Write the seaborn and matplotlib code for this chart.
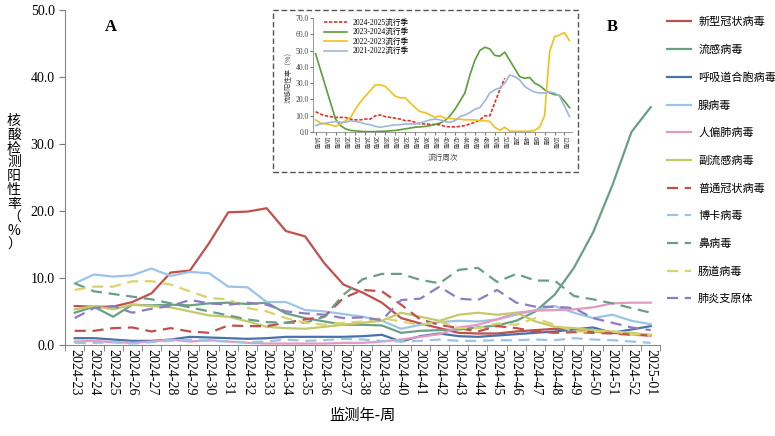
import matplotlib
matplotlib.use("Agg")
import matplotlib.pyplot as plt
import seaborn as sns
import pandas as pd
import numpy as np
from matplotlib.patches import Rectangle

weeks = [f"2024-{w}" for w in range(23, 53)] + ["2025-01"]

covid   = [5.8,5.7,5.7,6.4,7.7,10.8,11.1,15.2,19.8,19.9,20.4,17.0,16.2,12.2,9.0,7.8,6.3,4.0,3.2,2.5,1.8,1.7,1.7,2.0,2.2,2.4,2.4,2.0,1.8,1.6,1.4]
flu     = [4.8,5.7,4.2,6.0,5.9,6.0,5.9,6.2,6.3,6.1,6.3,4.7,4.0,3.5,3.0,3.0,2.9,1.8,2.1,2.2,2.3,2.6,2.9,3.6,5.0,7.5,11.5,16.8,23.8,31.8,35.5]
rsv     = [1.0,1.0,0.8,0.6,0.6,0.8,1.2,1.1,1.0,0.9,1.0,1.2,1.2,1.2,1.2,1.3,1.5,0.5,1.3,1.7,1.3,1.2,1.4,1.6,1.8,2.0,2.3,2.6,1.8,2.3,2.8]
adeno   = [9.2,10.5,10.2,10.4,11.4,10.3,10.9,10.7,8.7,8.6,6.4,6.4,5.2,5.0,4.6,4.2,3.6,2.4,3.0,3.4,3.6,3.5,3.8,4.5,5.2,5.8,4.8,4.0,4.5,3.6,3.1]
hmpv    = [0.5,0.6,0.4,0.3,0.5,0.8,0.5,0.7,0.5,0.3,0.2,0.2,0.2,0.2,0.3,0.3,0.5,0.8,1.2,1.6,2.6,3.0,3.8,4.8,5.1,5.2,5.3,5.6,6.2,6.3,6.3]
paraflu = [5.3,5.8,5.3,6.0,5.8,5.6,5.0,4.4,4.2,3.5,2.7,2.5,2.4,2.7,3.0,3.3,3.6,4.8,4.2,3.6,4.5,4.8,4.5,4.8,3.5,2.7,2.5,2.2,2.0,1.8,1.5]
hcov    = [2.1,2.1,2.5,2.6,2.0,2.5,2.0,1.8,2.9,2.8,2.8,3.3,3.8,4.2,7.0,8.2,8.0,6.0,3.8,3.0,2.5,2.0,2.8,2.5,2.0,1.8,1.9,1.8,1.7,1.5,1.4]
boca    = [0.3,0.3,0.4,0.2,0.4,0.6,0.8,0.6,0.5,0.4,0.5,0.8,0.6,0.7,0.9,0.8,0.6,0.5,0.6,0.8,0.6,0.6,0.7,0.7,0.8,0.7,1.0,0.8,0.7,0.5,0.3]
rhino   = [9.2,8.0,7.6,7.2,6.8,6.2,5.6,5.0,4.4,3.8,3.4,3.3,3.3,4.2,7.5,9.8,10.6,10.6,9.7,9.2,11.2,11.5,9.4,10.6,9.6,9.6,7.3,6.8,6.2,5.5,4.8]
entero  = [8.2,8.7,8.7,9.5,9.5,9.0,8.0,7.0,6.8,5.5,5.0,4.0,3.3,3.0,3.3,3.5,4.0,3.5,3.0,3.5,2.5,2.5,3.2,3.0,4.0,3.0,2.0,2.0,2.0,1.6,1.5]
myco    = [4.0,5.5,5.8,4.8,5.4,5.8,6.7,6.2,6.0,6.3,6.0,5.0,4.7,4.5,4.0,4.1,3.7,6.7,6.9,8.7,6.9,6.7,8.2,6.3,5.7,5.7,5.5,4.0,3.3,2.6,2.2]

names = ["新型冠状病毒","流感病毒","呼吸道合胞病毒","腺病毒","人偏肺病毒","副流感病毒",
         "普通冠状病毒","博卡病毒","鼻病毒","肠道病毒","肺炎支原体"]
series = [covid, flu, rsv, adeno, hmpv, paraflu, hcov, boca, rhino, entero, myco]
colors = ["#c0504d","#6a9f85","#4a72a8","#9dc3e6","#e49ac0","#c4c96a",
          "#c0504d","#9dc3e6","#6a9f85","#d8d36a","#8e7cc3"]
styles = ["-"]*6 + ["--"]*5

# inset data
in_weeks = list(range(14, 53)) + list(range(1, 14))
s2425 = [12.5,11,10,9.5,9,9,9,8,7.5,7.5,8,8,10,10.5,9.5,9,8.5,8,7,7,6,5,5,4.8,4.5,4.5,3.5,3.2,3.2,3.5,4,5,6,7.5,10,10,18,26,33] + [np.nan]*13
s2324 = [48,38,28,18,8,4,2,1,0.8,0.5,0.3,0.3,0.3,0.5,0.5,0.8,1,1.5,2,2.5,3,3.2,3.5,4,4.8,5.5,7,10,14,19,24,35,44,50,52,51,47,46.5,49,44,39,34,33,33.5,30,28.5,26,24,23,22.5,19,15]
s2223 = [7.5,5.5,5,4.5,3.5,5,7,9,14,18.5,22,25.5,29,29,28,25,22,21,21,18,15,12.5,12,10.5,9,10,8.5,8.5,8,8,7.5,7.5,7.5,7,7,6.5,3,1,3,0.5,0.5,0.5,0.5,0.5,1,3,10,49,58.5,59.5,61,56]
s2122 = [4,5,5.5,6,6.5,6,6,7,6.5,6,5,4.5,3.5,3,3.5,4,4.5,4.5,5,5,5,5.5,6.5,7.5,8,7.5,6.5,6,7,9.5,10.5,12,14,15,19,24,26,27,30,35,34,32,28,26,24.5,24,24,24.5,24,22,16,9.5]
in_names = ["2024-2025流行季","2023-2024流行季","2022-2023流行季","2021-2022流行季"]
in_series = [s2425, s2324, s2223, s2122]
in_colors = ["#e03030","#5a9e3a","#f2c11c","#9fb6dc"]
in_styles = [(0,(2,1)),"-","-","-"]

cjk = "Noto Sans CJK SC"
plt.rcParams["font.family"] = ["Liberation Serif", cjk]

fig = plt.figure(figsize=(7.75, 4.36), dpi=100)
ax = fig.add_axes([0.084, 0.209, 0.768, 0.768])
x = np.arange(len(weeks))
df = pd.DataFrame({n: s for n, s in zip(names, series)})
df["x"] = x
for n, c, ls in zip(names, colors, styles):
    sns.lineplot(data=df, x="x", y=n, ax=ax, color=c, lw=1.6, label=n)
    ax.lines[-1].set_linestyle(ls)
    if ls == "--":
        ax.lines[-1].set_dashes((5, 3))
ax.set_xlim(-0.5, len(weeks) - 0.5)
ax.set_ylim(0, 50)
ax.set_yticks(np.arange(0, 51, 10))
ax.set_yticklabels([f"{v:.1f}" for v in np.arange(0, 51, 10)], fontsize=10)
ax.set_xticks(x)
ax.set_xticklabels(weeks, rotation=-90, fontsize=10)
ax.set_xticks(np.arange(-0.5, len(weeks), 1), minor=True)
ax.tick_params(axis="x", which="major", length=0, pad=3)
ax.tick_params(axis="x", which="minor", length=4, color="#777777")
ax.tick_params(axis="y", length=4, color="#777777")
for s in ["top", "right"]:
    ax.spines[s].set_visible(False)
for s in ["left", "bottom"]:
    ax.spines[s].set_color("#888888")
ax.set_xlabel("监测年-周", fontfamily=cjk, fontsize=11, labelpad=8)
ax.set_ylabel("")
fig.text(0.018, 0.58, "\n".join("核酸检测阳性率") + "\n（\n%\n）", fontfamily=cjk,
         fontsize=10, ha="center", va="center", linespacing=0.98)
fig.text(0.135, 0.93, "A", fontsize=12, fontweight="bold")
fig.text(0.783, 0.93, "B", fontsize=12, fontweight="bold")
ax.legend(loc="upper left", bbox_to_anchor=(1.0, 1.0), frameon=False,
          prop={"family": cjk, "size": 8}, handlelength=2.2, handletextpad=0.6,
          labelspacing=1.55, borderaxespad=0.2)

# inset
fig.add_artist(Rectangle((0.352, 0.605), 0.394, 0.372, transform=fig.transFigure,
                         fill=False, ls=(0, (4, 2)), ec="#555555", lw=1))
ia = fig.add_axes([0.404, 0.697, 0.334, 0.262])
ix = np.arange(len(in_weeks))
idf = pd.DataFrame({n: s for n, s in zip(in_names, in_series)})
idf["x"] = ix
for n, c, ls in zip(in_names, in_colors, in_styles):
    sns.lineplot(data=idf, x="x", y=n, ax=ia, color=c, lw=1.2, label=n)
    ia.lines[-1].set_linestyle(ls)
ia.set_xlim(-0.5, len(in_weeks) - 0.5)
ia.set_ylim(0, 70)
ia.set_yticks(np.arange(0, 71, 10))
ia.set_yticklabels([f"{v:.1f}" for v in np.arange(0, 71, 10)], fontsize=5.5, color="#444444")
ia.set_xticks(ix[::2])
ia.set_xticklabels([f"{w}周" for w in in_weeks[::2]], rotation=-90, fontsize=4.5,
                   fontfamily=cjk, color="#444444")
ia.tick_params(length=2, pad=1, color="#777777")
for s in ["top", "right"]:
    ia.spines[s].set_visible(False)
for s in ["left", "bottom"]:
    ia.spines[s].set_color("#888888")
    ia.spines[s].set_linewidth(0.6)
ia.set_xlabel("流行周次", fontfamily=cjk, fontsize=5.5, color="#444444", labelpad=3)
ia.set_ylabel("流感阳性率（%）", fontfamily=cjk, fontsize=5, color="#444444", labelpad=2)
ia.legend(loc="upper left", bbox_to_anchor=(0.03, 1.02), frameon=False,
          prop={"family": ["Liberation Serif", cjk], "size": 5.5}, handlelength=3,
          labelspacing=0.2, borderaxespad=0)

fig.savefig("out.png", dpi=100)
